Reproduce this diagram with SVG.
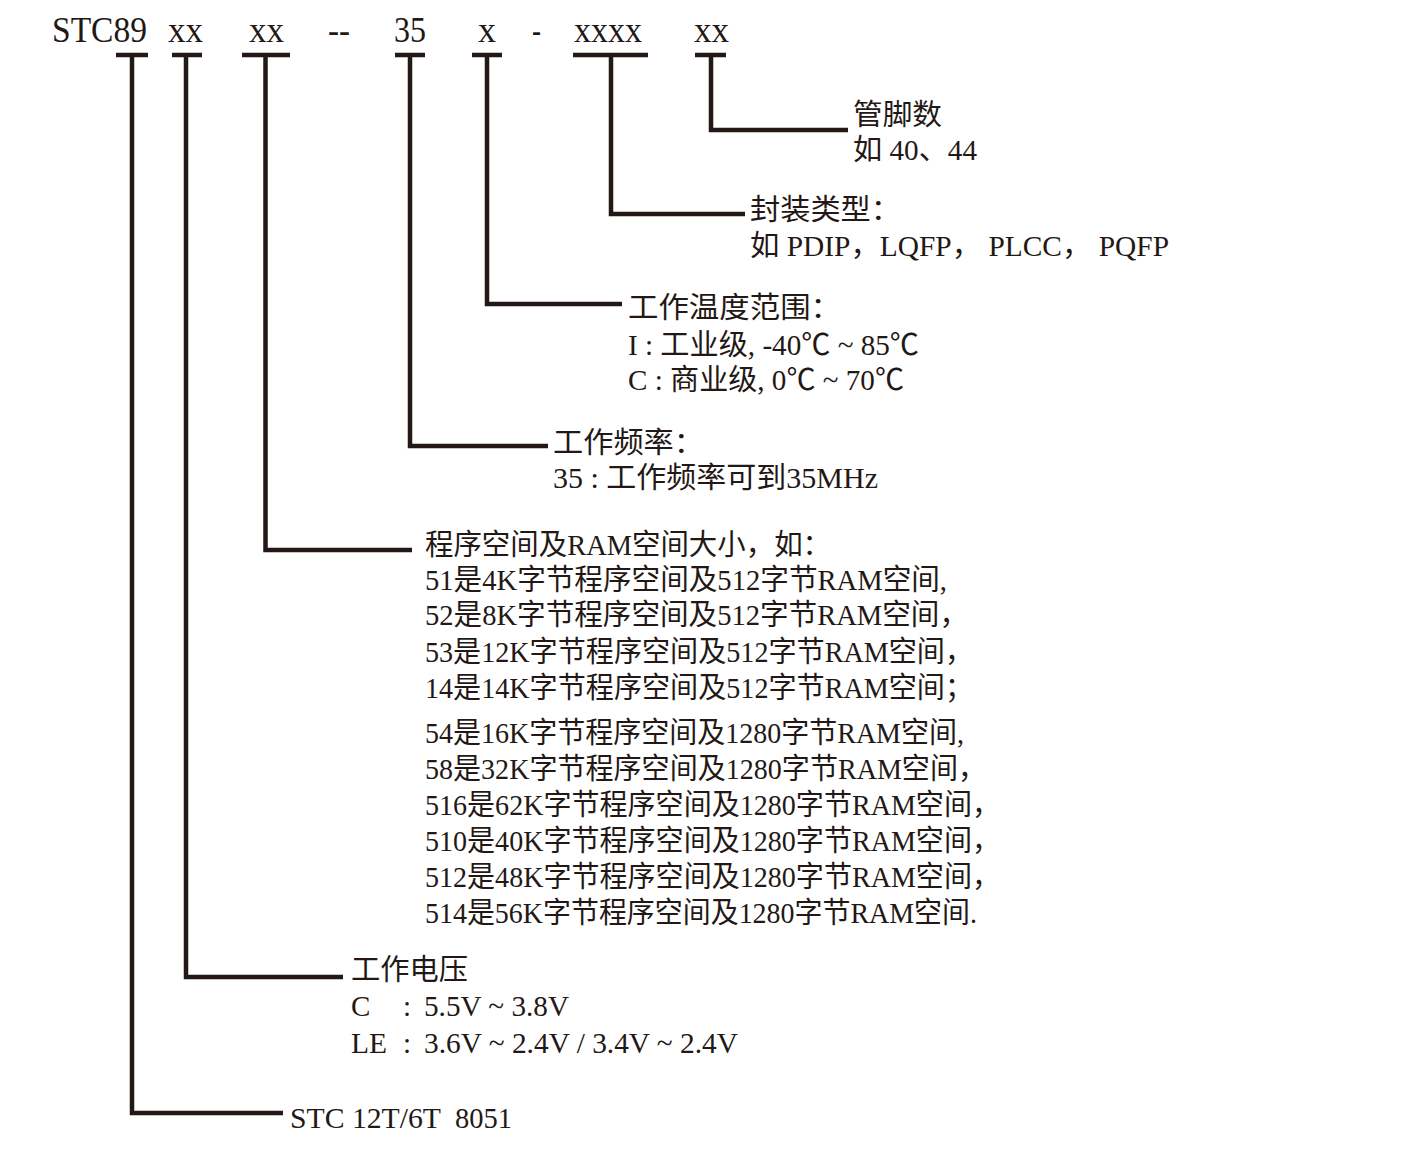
<svg xmlns="http://www.w3.org/2000/svg" width="1414" height="1149" viewBox="0 0 1414 1149">
<style>
.t{font-family:"Liberation Serif","Noto Sans CJK SC",serif;font-size:29px;fill:#231815}
.h{font-family:"Liberation Serif","Noto Sans CJK SC",serif;font-size:36px;fill:#231815}
.c{stroke:#231815;stroke-width:4.5;fill:none;stroke-linecap:butt;stroke-linejoin:miter}
</style>
<rect width="1414" height="1149" fill="#ffffff"/>
<g id="part-number">
<text class="h" x="52" y="42" textLength="95" lengthAdjust="spacingAndGlyphs">STC89</text>
<text class="h" x="168" y="42" textLength="35" lengthAdjust="spacingAndGlyphs">xx</text>
<text class="h" x="249" y="42" textLength="35" lengthAdjust="spacingAndGlyphs">xx</text>
<text class="h" x="328" y="42" textLength="22" lengthAdjust="spacingAndGlyphs">--</text>
<text class="h" x="394" y="42" textLength="32" lengthAdjust="spacingAndGlyphs">35</text>
<text class="h" x="478" y="42" textLength="18" lengthAdjust="spacingAndGlyphs">x</text>
<text class="h" x="532" y="42" textLength="9" lengthAdjust="spacingAndGlyphs">-</text>
<text class="h" x="574" y="42" textLength="68" lengthAdjust="spacingAndGlyphs">xxxx</text>
<text class="h" x="694" y="42" textLength="35" lengthAdjust="spacingAndGlyphs">xx</text>
</g>
<g id="connectors">
<line class="c" x1="116" y1="55" x2="148" y2="55"/>
<line class="c" x1="172" y1="55" x2="202" y2="55"/>
<line class="c" x1="242" y1="55" x2="290" y2="55"/>
<line class="c" x1="395" y1="55" x2="425" y2="55"/>
<line class="c" x1="472" y1="55" x2="502" y2="55"/>
<line class="c" x1="573" y1="55" x2="648" y2="55"/>
<line class="c" x1="695" y1="55" x2="726" y2="55"/>
<path class="c" d="M711 55 V130 H848"/>
<path class="c" d="M611 55 V214 H745"/>
<path class="c" d="M487 55 V304 H622"/>
<path class="c" d="M410 55 V446 H548"/>
<path class="c" d="M265.5 55 V550 H412"/>
<path class="c" d="M186 55 V977 H343"/>
<path class="c" d="M132 55 V1113 H283"/>
</g>
<g id="pins">
<text class="t" x="853" y="125" textLength="89" lengthAdjust="spacingAndGlyphs">管脚数</text>
<text class="t" x="853" y="160" textLength="124" lengthAdjust="spacingAndGlyphs">如 40、44</text>
</g>
<g id="package">
<text class="t" x="750" y="220" textLength="151" lengthAdjust="spacingAndGlyphs">封装类型：</text>
<text class="t" x="750" y="256" textLength="419" lengthAdjust="spacingAndGlyphs">如 PDIP，LQFP， PLCC， PQFP</text>
</g>
<g id="temperature">
<text class="t" x="628" y="318" textLength="213" lengthAdjust="spacingAndGlyphs">工作温度范围：</text>
<text class="t" x="628" y="355" textLength="291" lengthAdjust="spacingAndGlyphs">I : 工业级, -40℃ ~ 85℃</text>
<text class="t" x="628" y="390" textLength="276" lengthAdjust="spacingAndGlyphs">C : 商业级, 0℃ ~ 70℃</text>
</g>
<g id="frequency">
<text class="t" x="553" y="453" textLength="151" lengthAdjust="spacingAndGlyphs">工作频率：</text>
<text class="t" x="553" y="488" textLength="325" lengthAdjust="spacingAndGlyphs">35 : 工作频率可到35MHz</text>
</g>
<g id="memory">
<text class="t" x="425" y="555" textLength="406" lengthAdjust="spacingAndGlyphs">程序空间及RAM空间大小，如：</text>
<text class="t" x="425" y="590" textLength="522" lengthAdjust="spacingAndGlyphs">51是4K字节程序空间及512字节RAM空间,</text>
<text class="t" x="425" y="625" textLength="543" lengthAdjust="spacingAndGlyphs">52是8K字节程序空间及512字节RAM空间，</text>
<text class="t" x="425" y="662" textLength="548" lengthAdjust="spacingAndGlyphs">53是12K字节程序空间及512字节RAM空间，</text>
<text class="t" x="425" y="698" textLength="548" lengthAdjust="spacingAndGlyphs">14是14K字节程序空间及512字节RAM空间；</text>
<text class="t" x="425" y="743" textLength="539" lengthAdjust="spacingAndGlyphs">54是16K字节程序空间及1280字节RAM空间,</text>
<text class="t" x="425" y="779" textLength="561" lengthAdjust="spacingAndGlyphs">58是32K字节程序空间及1280字节RAM空间，</text>
<text class="t" x="425" y="815" textLength="575" lengthAdjust="spacingAndGlyphs">516是62K字节程序空间及1280字节RAM空间，</text>
<text class="t" x="425" y="851" textLength="575" lengthAdjust="spacingAndGlyphs">510是40K字节程序空间及1280字节RAM空间，</text>
<text class="t" x="425" y="887" textLength="575" lengthAdjust="spacingAndGlyphs">512是48K字节程序空间及1280字节RAM空间，</text>
<text class="t" x="425" y="923" textLength="552" lengthAdjust="spacingAndGlyphs">514是56K字节程序空间及1280字节RAM空间.</text>
</g>
<g id="voltage">
<text class="t" x="351" y="980" textLength="117" lengthAdjust="spacingAndGlyphs">工作电压</text>
<text class="t" x="351" y="1016">C</text>
<text class="t" x="403" y="1016">:</text>
<text class="t" x="424" y="1016" textLength="145" lengthAdjust="spacingAndGlyphs">5.5V ~ 3.8V</text>
<text class="t" x="351" y="1053" textLength="36" lengthAdjust="spacingAndGlyphs">LE</text>
<text class="t" x="403" y="1053">:</text>
<text class="t" x="424" y="1053" textLength="314" lengthAdjust="spacingAndGlyphs">3.6V ~ 2.4V / 3.4V ~ 2.4V</text>
</g>
<g id="core">
<text class="t" x="290" y="1128" textLength="151" lengthAdjust="spacingAndGlyphs">STC 12T/6T</text>
<text class="t" x="455" y="1128" textLength="57" lengthAdjust="spacingAndGlyphs">8051</text>
</g>
</svg>
